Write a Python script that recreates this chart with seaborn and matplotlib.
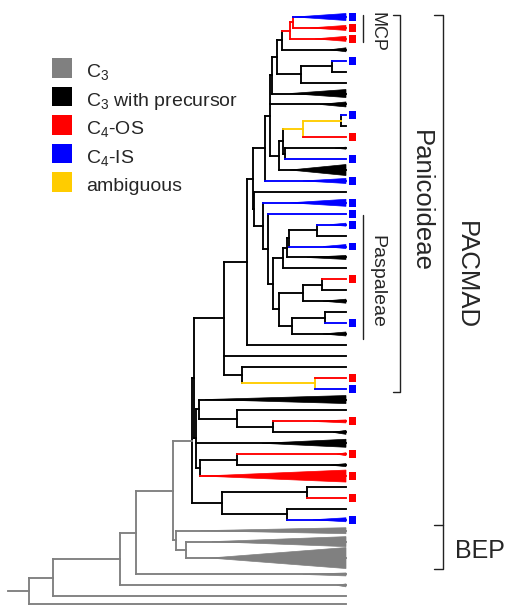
import numpy as np
import pandas as pd
import matplotlib
matplotlib.use("Agg")
import matplotlib.pyplot as plt
from matplotlib.collections import LineCollection
from matplotlib.patches import Polygon, Rectangle
import seaborn as sns

# ---------------- data ----------------
# state of every terminal, top to bottom (P = C3 with precursor)
tip_state = ["IS", "OS", "OS", "P", "IS", "P", "P", "P", "P", "IS",
             "P", "OS", "P", "IS", "P", "IS", "P", "IS", "IS", "IS",
             "P", "IS", "P", "P", "OS", "P", "P", "P", "IS", "P",
             "P", "P", "P", "OS", "IS", "P", "P", "OS", "P", "P",
             "OS", "P", "OS", "P", "OS", "P", "IS", "C3", "C3", "C3",
             "C3", "C3", "C3", "C3"]

# collapsed clades (drawn as wedges): tip number, depth where wedge opens, wedge height
clade_tips = [1, 2, 3, 4, 8, 9, 13, 15, 16, 18, 20, 22, 23, 27, 30,
              36, 38, 39, 40, 41, 42, 43, 47, 48, 49, 50, 51, 52]
clade_open = [295, 310, 315, 330, 290, 320, 335, 290, 303, 290, 330, 323, 307, 323, 323,
              205, 313, 333, 262, 337, 330, 202, 313, 200, 212, 210, 303, 337]
clade_size = [7, 5, 5, 4, 8, 5, 2, 11, 5, 7, 3, 4, 4, 4, 4,
              8, 3, 4, 8, 3, 3, 12, 4, 6, 10, 21, 3, 3]

# internal nodes: name, depth, children (ints = tips, str = nodes), state of node, state of stem
node_name = ["NB", "NR", "N282", "N332", "N301", "N277", "N272", "NYb", "Y", "Q2",
             "Q", "R", "N270", "N265", "NPb1", "NPb0", "NPb", "NPc", "NPa1a", "NPa1",
             "NPa2a", "NPa2", "NPa", "NPd", "NPe", "NPf", "NPg", "NPh", "N247", "NY2",
             "N242", "PAN", "N273", "N237a", "LA", "N237b", "LB", "LC", "X", "N307",
             "N287", "N222", "PACMAD", "BEP2", "BEP", "R4", "R3", "R2", "R1", "R0"]
node_depth = [293, 290, 282, 332, 301, 277, 272, 341, 303, 285,
              283, 279, 270, 265, 317, 289, 287, 283, 322, 303,
              325, 292, 279, 273, 268, 263, 254, 253, 247, 315,
              242, 224, 273, 237, 199, 237, 200, 196, 194, 307,
              287, 222, 192, 186, 176, 173, 136, 120, 53, 29]
node_children = [[1, 2], ["NB", 3], ["NR", 4], [5, 6], ["N332", 7], ["N282", "N301"],
                 ["N277", 8], [10, 11], ["NYb", 12], [13, 14],
                 ["Y", "Q2"], ["Q", 15], ["N272", 9, "R"], ["N270", 16], [20, 21],
                 ["NPb1", 22], ["NPb0", 23], ["NPb", 24], [25, 26], ["NPa1a", 27],
                 [28, 29], ["NPa2a", 30], ["NPa1", "NPa2"], ["NPc", "NPa"], [19, "NPd"],
                 [18, "NPe"], [17, "NPf"], ["N265", "NPg"], ["NPh", 31], [34, 35],
                 [33, "NY2"], ["N247", 32, "N242"], [38, 39], [37, "N273"], [36, "N237a"],
                 [41, 42], ["N237b", 43], ["LA", 40, "LB"], ["PAN", "LC"], [44, 45],
                 [46, 47], ["N307", "N287"], ["X", "N222"], [49, 50], [48, "BEP2"],
                 ["PACMAD", "BEP"], ["R4", 51], ["R3", 52], ["R2", 53], ["R1", 54]]
node_state = ["OS", "OS", "P", "P", "P", "P", "P", "P", "amb", "P",
              "P", "P", "P", "P", "P", "P", "P", "P", "P", "P",
              "P", "P", "P", "P", "P", "P", "P", "P", "P", "amb",
              "P", "P", "P", "P", "P", "P", "P", "P", "P", "P",
              "P", "P", "P", "C3", "C3", "C3", "C3", "C3", "C3", "C3"]
stem_state = list(node_state)
stem_state[node_name.index("NYb")] = "amb"
stem_state[node_name.index("PACMAD")] = "C3"

legend_states = ["C3", "P", "OS", "IS", "amb"]
legend_labels = ["C$_3$", "C$_3$ with precursor", "C$_4$-OS", "C$_4$-IS", "ambiguous"]

clade_labels = ["MCP", "Paspaleae", "Panicoideae", "PACMAD", "BEP"]

# ---------------- style ----------------
colors = {"C3": "#808080", "P": "#000000", "OS": "#ff0000", "IS": "#0000ff", "amb": "#ffcc00"}

sns.set_theme(style="white")
plt.rcParams["font.family"] = ["Liberation Sans", "DejaVu Sans"]
plt.rcParams["mathtext.fontset"] = "custom"
plt.rcParams["mathtext.rm"] = "Liberation Sans"
plt.rcParams["mathtext.it"] = "Liberation Sans:italic"

fig = plt.figure(figsize=(5.07, 6.06), dpi=100)
ax = fig.add_axes([0, 0, 1, 1])

# ---------------- layout ----------------
n_tips = len(tip_state)
slot = 10.93
weights = np.ones(n_tips)
weights[50 - 1] = 2.0
weights[54 - 1] = 0.5
tip_y = np.zeros(n_tips)
tip_y[0] = 17
for i in range(1, n_tips):
    tip_y[i] = tip_y[i - 1] + slot * (weights[i - 1] + weights[i]) / 2
tip_end = 346

node_idx = {n: i for i, n in enumerate(node_name)}
node_y = {}


def y_of(c):
    if isinstance(c, int):
        return tip_y[c - 1]
    if c not in node_y:
        ch = node_children[node_idx[c]]
        node_y[c] = (y_of(ch[0]) + y_of(ch[-1])) / 2
    return node_y[c]


segs, segc = [], []
for i, name in enumerate(node_name):
    ch = node_children[i]
    x = node_depth[i]
    segs.append([(x, y_of(ch[0])), (x, y_of(ch[-1]))])
    segc.append(colors[node_state[i]])
    for c in ch:
        if isinstance(c, int):
            segs.append([(x, tip_y[c - 1]), (tip_end, tip_y[c - 1])])
            segc.append(colors[tip_state[c - 1]])
        else:
            j = node_idx[c]
            segs.append([(x, y_of(c)), (node_depth[j], y_of(c))])
            segc.append(colors[stem_state[j]])
# root stem
segs.append([(8, y_of("R0")), (node_depth[node_idx["R0"]], y_of("R0"))])
segc.append(colors["C3"])

lc = LineCollection(segs, colors=segc, linewidths=1.35, capstyle="projecting", zorder=2)
ax.add_collection(lc)

for t, xo, h in zip(clade_tips, clade_open, clade_size):
    y = tip_y[t - 1]
    ax.add_patch(Polygon([(xo, y), (tip_end, y - h / 2), (tip_end, y + h / 2)],
                         closed=True, facecolor=colors[tip_state[t - 1]],
                         edgecolor=colors[tip_state[t - 1]], linewidth=0.5, zorder=2))

# state squares (seaborn)
sel = [i for i, s in enumerate(tip_state) if s in ("OS", "IS")]
df = pd.DataFrame({"x": [352.5] * len(sel), "y": tip_y[sel], "state": [tip_state[i] for i in sel]})
sns.scatterplot(data=df, x="x", y="y", hue="state", palette=colors, marker="s", s=32,
                linewidth=0, legend=False, ax=ax, zorder=3)

# clade brackets
bk = "#222222"
blw = 1.0
# MCP
ax.plot([363, 363], [tip_y[0] - 2, tip_y[2] + 3], color=bk, lw=blw)
ax.text(377, 32, clade_labels[0], rotation=270, ha="center", va="center", fontsize=13)
# Paspaleae
ax.plot([363, 363], [tip_y[18] + 1, tip_y[29] + 5], color=bk, lw=blw)
ax.text(377, 281, clade_labels[1], rotation=270, ha="center", va="center", fontsize=14)
# Panicoideae
py0, py1 = tip_y[0] - 2, tip_y[34] + 3
ax.plot([393, 400, 400, 393], [py0, py0, py1, py1], color=bk, lw=blw)
ax.text(421, 201, clade_labels[2], rotation=270, ha="center", va="center", fontsize=18.5)
# PACMAD / BEP
qy0 = tip_y[0] - 2
qy1 = (tip_y[46] + tip_y[47]) / 2
qy2 = tip_y[49] + 11
ax.plot([434, 443, 443, 434], [qy0, qy0, qy1, qy1], color=bk, lw=blw)
ax.plot([443, 443, 434], [qy1, qy2, qy2], color=bk, lw=blw)
ax.text(466, 275, clade_labels[3], rotation=270, ha="center", va="center", fontsize=18.5)
ax.text(480, 551, clade_labels[4], ha="center", va="center", fontsize=18)

# legend
for k, (st, lab) in enumerate(zip(legend_states, legend_labels)):
    top = 58 + 28.5 * k
    ax.add_patch(Rectangle((52, top), 20, 19.5, facecolor=colors[st], edgecolor="none"))
    ax.text(86, top + 19, lab, ha="left", va="baseline", fontsize=14)

ax.set_xlim(0, 507)
ax.set_ylim(606, 0)
ax.axis("off")
fig.savefig("out.png", dpi=100)
